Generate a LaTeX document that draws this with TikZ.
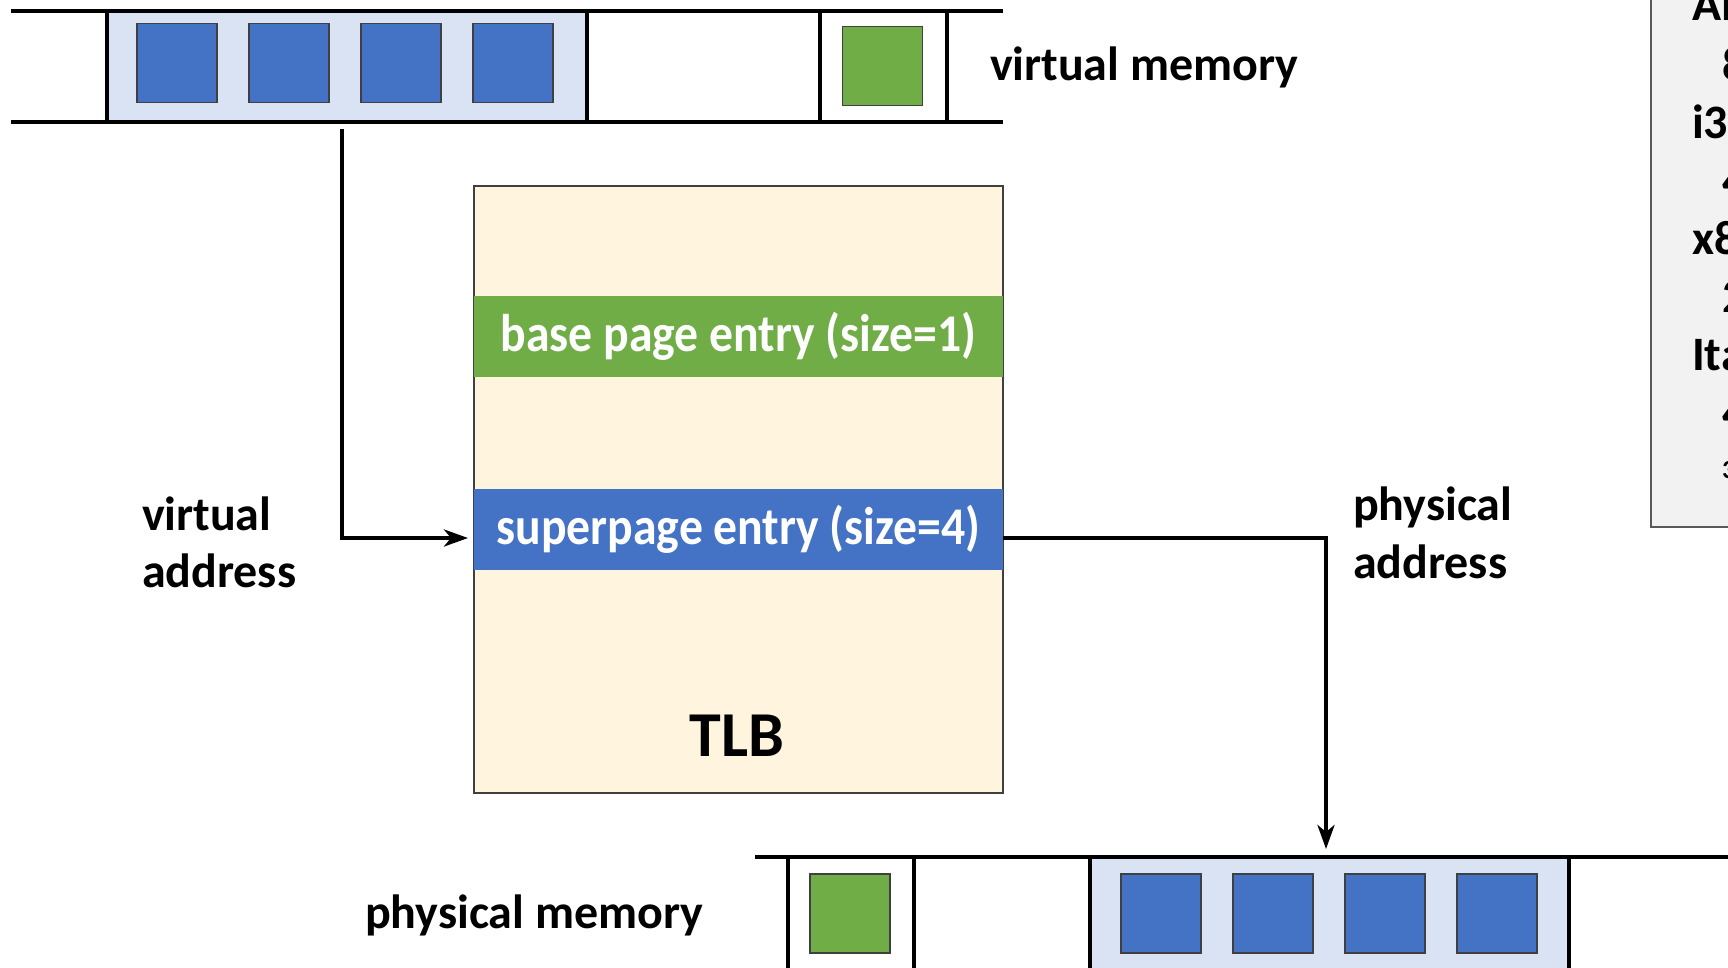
\documentclass[tikz,border=0pt]{standalone}
\usepackage{fontspec}
\setmainfont{Carlito}
\usetikzlibrary{arrows.meta}

\definecolor{pageblue}{HTML}{4472C4}
\definecolor{pagegreen}{HTML}{70AD47}
\definecolor{superbg}{HTML}{DAE3F3}
\definecolor{tlbbg}{HTML}{FFF4DE}
\definecolor{panelbg}{HTML}{F2F2F2}
\definecolor{tlbedge}{HTML}{404040}
\definecolor{paneledge}{HTML}{595959}

% condensed white text inside the TLB entry bands
\newcommand{\entrytext}[1]{\scalebox{0.9}[1]{#1}}

\tikzset{
  memline/.style={line width=4.5pt, black},
  region/.style={inner sep=0pt, outer sep=0pt, draw=none},
  pagebox/.style={inner sep=0pt, outer sep=0pt, draw=black!75, line width=1.3pt,
    minimum width=80pt, minimum height=79pt},
  bluepage/.style={pagebox, fill=pageblue},
  greenpage/.style={pagebox, fill=pagegreen},
  label/.style={inner sep=0pt, outer sep=0pt, anchor=base west,
    font=\fontsize{48}{57}\selectfont\bfseries},
  entry/.style={inner sep=0pt, outer sep=0pt, minimum width=529pt, minimum height=81pt,
    text=white, font=\fontsize{53}{60}\selectfont\bfseries},
  arrowline/.style={line width=4pt, -{Stealth[length=24pt, width=17pt, inset=7pt]}},
}

\begin{document}
\begin{tikzpicture}[x=1pt, y=-1pt]
\useasboundingbox (0,0) rectangle (1728,967);

% ---- virtual memory strip ----
\node[region, fill=superbg, minimum width=480pt, minimum height=111pt] (vsuper) at (347,66.5) {};
\foreach \i in {0,1,2,3} {
  \node[bluepage] (vp\i) at (177+112*\i,63) {};
}
\node[greenpage] (vg) at (882.5,66) {};
\draw[memline] (11,11) -- (1003,11);
\draw[memline] (11,122) -- (1003,122);
\foreach \x in {107,587,820,947} {
  \draw[memline] (\x,11) -- (\x,122);
}
\node[label] (vmem) at (990,80) {virtual memory};

% ---- TLB ----
\node[region, fill=tlbbg, draw=tlbedge, line width=1.5pt,
      minimum width=529pt, minimum height=607pt] (tlb) at (738.5,489.5) {};
\node[entry, fill=pagegreen] (baseent) at (738.5,336) {\entrytext{base page entry (size=1)}};
\node[entry, fill=pageblue] (superent) at (738.5,529.5) {\entrytext{superpage entry (size=4)}};
\node[inner sep=0pt, anchor=base, font=\fontsize{64}{70}\selectfont\bfseries] (tlbname) at (737,756) {TLB};

% ---- physical memory strip ----
\node[region, fill=superbg, minimum width=479pt, minimum height=120pt] (psuper) at (1329.5,917) {};
\node[greenpage] (pg) at (850,913.5) {};
\foreach \i in {0,1,2,3} {
  \node[bluepage] (pp\i) at (1161+112*\i,913.5) {};
}
\draw[memline] (755,857) -- (1728,857);
\foreach \x in {788,914,1090,1569} {
  \draw[memline] (\x,857) -- (\x,975);
}
\node[label] (pmem) at (365,928) {physical memory};

% ---- address labels ----
\node[label] (va1) at (142,530) {virtual};
\node[label] (va2) at (142,587) {address};
\node[label] (pa1) at (1353,520) {physical};
\node[label] (pa2) at (1353,578) {address};

% ---- translation arrows ----
\draw[arrowline, shorten >=6pt] ([xshift=-5pt, yshift=-7pt]vsuper.south) |- ([yshift=-8.5pt]superent.west);
\draw[arrowline, shorten >=8pt] ([yshift=-8.5pt]superent.east) -| ([xshift=-3.5pt]psuper.north);

% ---- page size panel ----
\begin{scope}
  \clip (0,0) rectangle (1728,967);
  \node[region, fill=panelbg, draw=paneledge, line width=2pt,
        minimum width=100pt, minimum height=540pt] (panel) at (1701,257) {};
  \node[label] (arch1) at (1692,20) {Alpha:};
  \node[label] (size1) at (1722,80) {8KB, 64KB, 512KB, 4MB};
  \node[label] (arch2) at (1692,138) {i386:};
  \node[label] (size2) at (1722,196) {4KB, 4MB};
  \node[label] (arch3) at (1692,254) {x86-64:};
  \node[label] (size3) at (1722,312) {2MB, 1GB};
  \node[label] (arch4) at (1692,370) {Itanium:};
  \node[label] (size4) at (1722,428) {4KB, 8KB, 16KB, 64KB,};
  \node[label, font=\fontsize{26}{30}\selectfont\bfseries] (size5) at (1722,478) {3};
\end{scope}
\end{tikzpicture}
\end{document}
